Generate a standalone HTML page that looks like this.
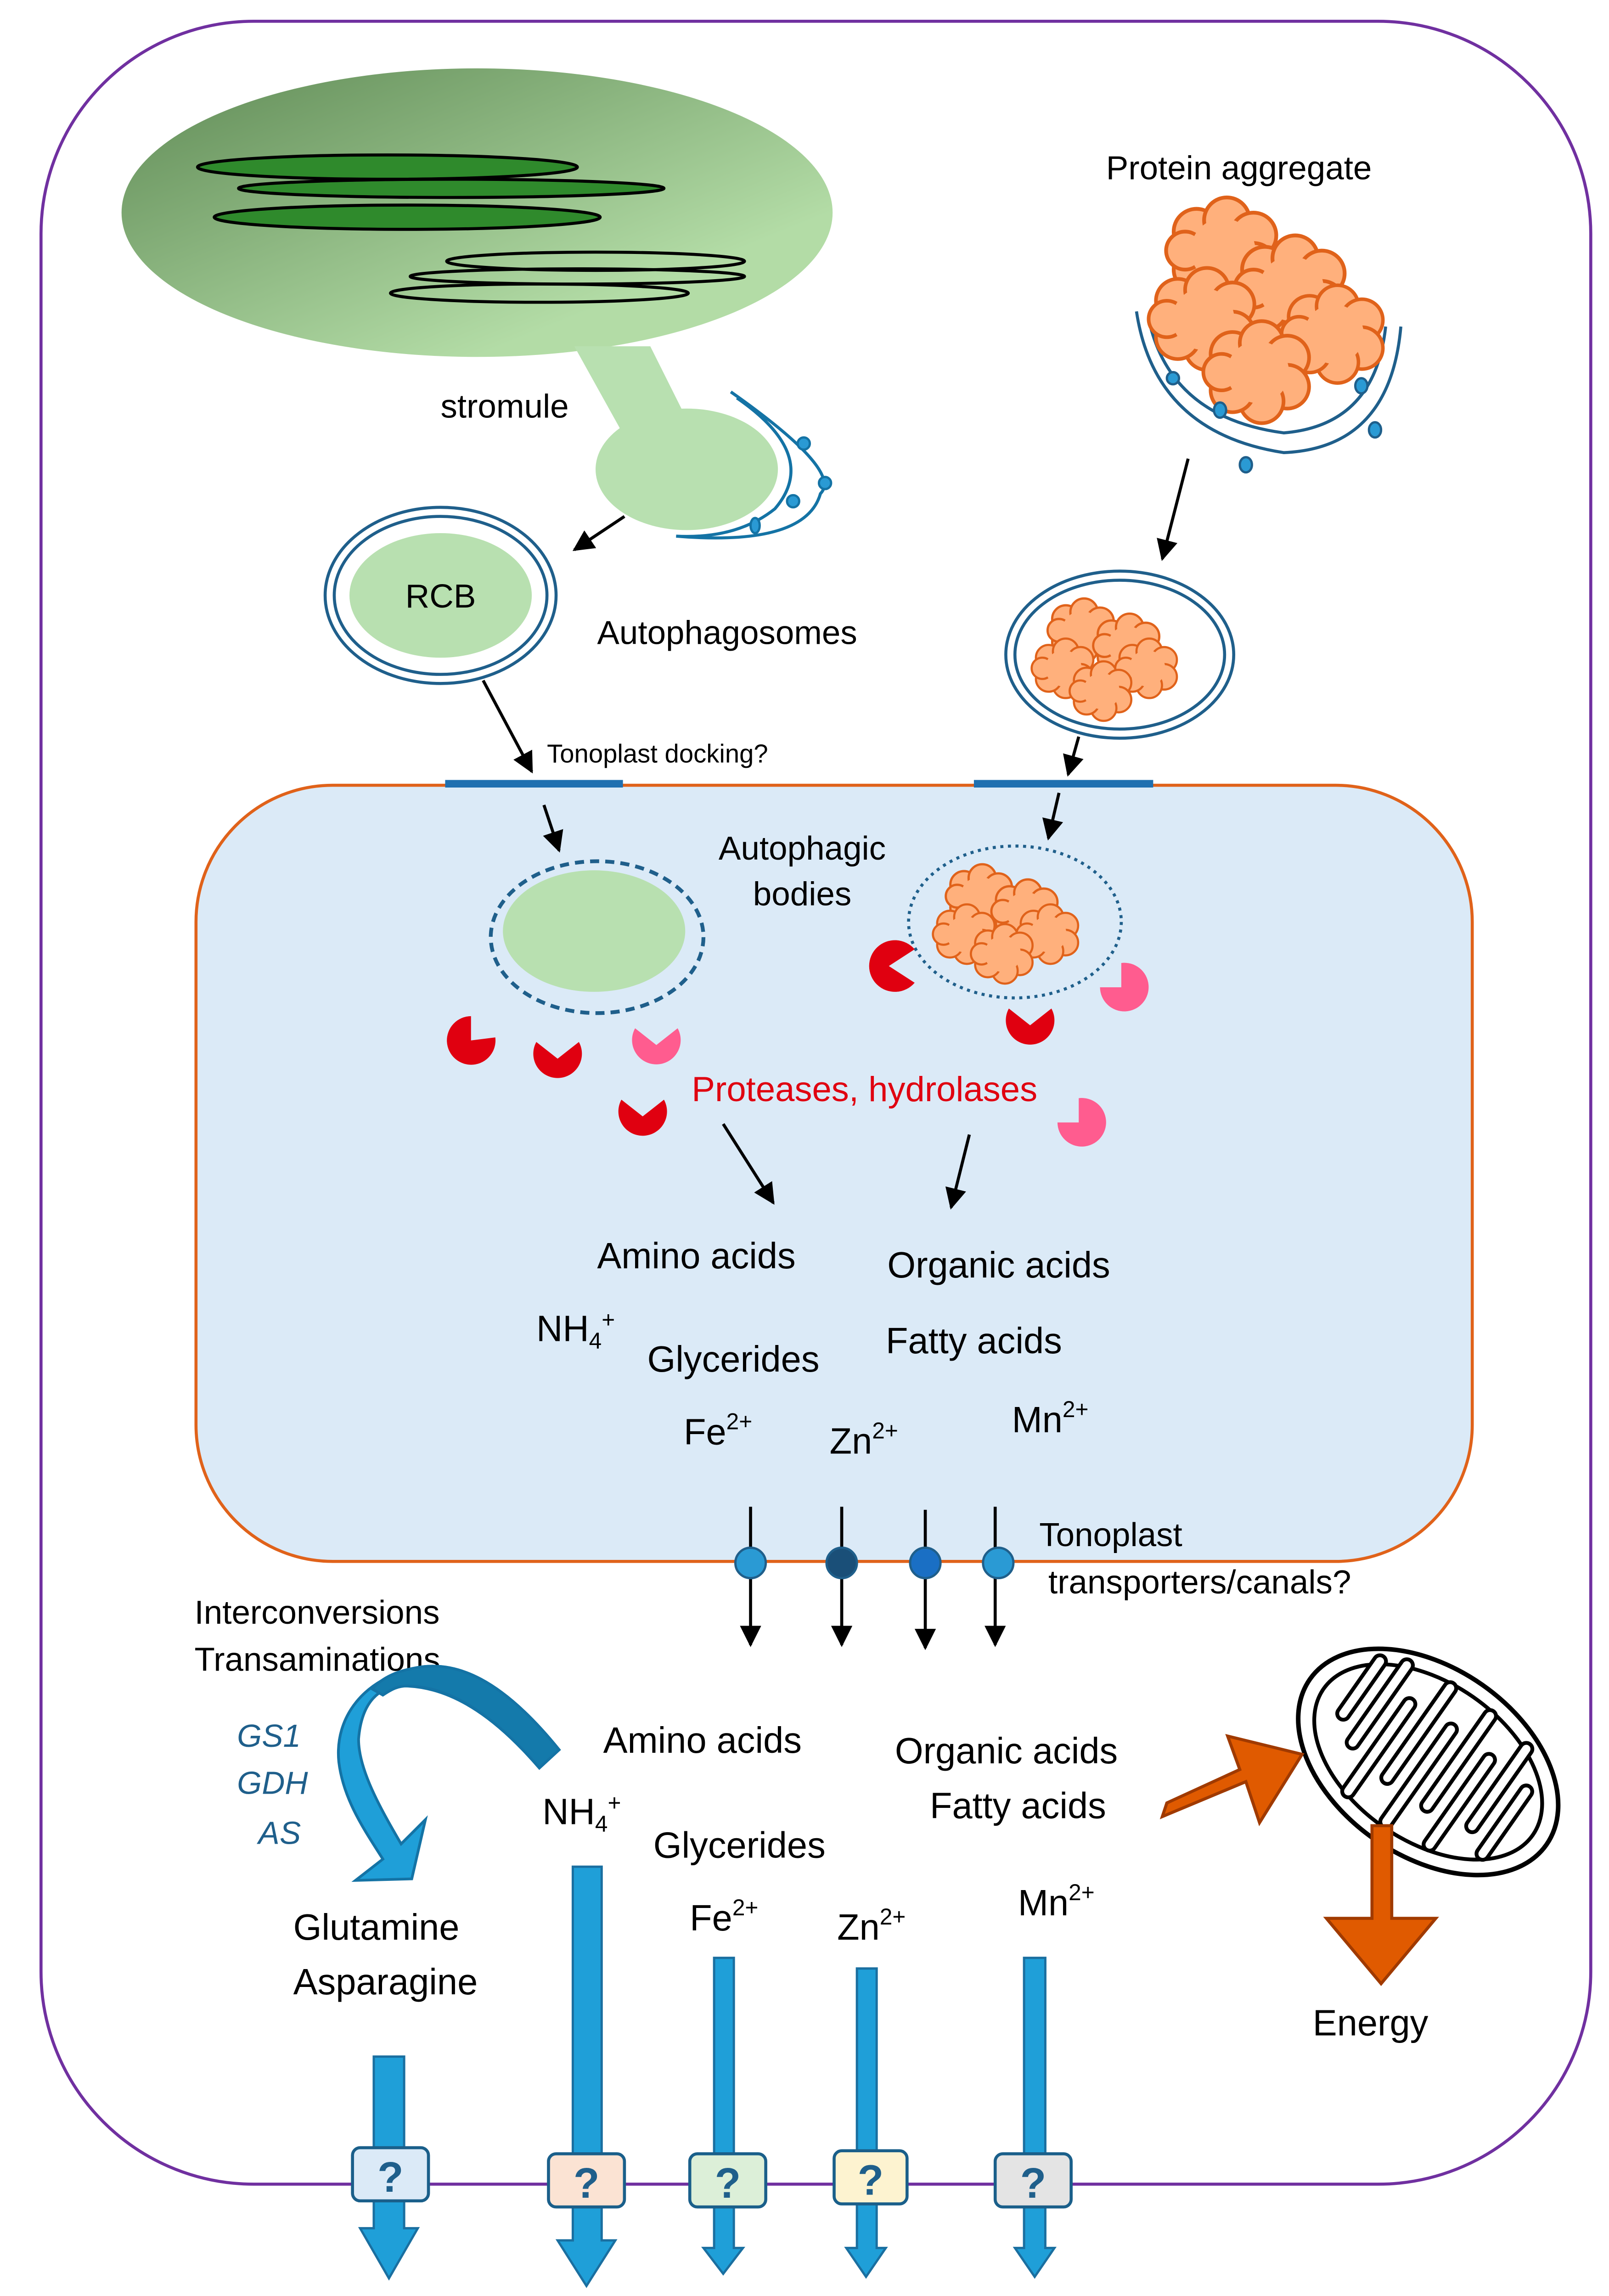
<!DOCTYPE html>
<html><head><meta charset="utf-8"><style>html,body{margin:0;padding:0;background:#fff;width:3504px;height:5160px;overflow:hidden}svg{display:block}text{font-family:"Liberation Sans","DejaVu Sans",sans-serif}</style></head>
<body>
<svg width="3504" height="5160" viewBox="0 0 1059 1560" preserveAspectRatio="none" xmlns="http://www.w3.org/2000/svg">
<defs>
<linearGradient id="chl" x1="0" y1="0" x2="1" y2="1">
<stop offset="0" stop-color="#5f8a55"/><stop offset="0.75" stop-color="#b3dca6"/></linearGradient>
<marker id="ah" viewBox="0 0 10 10" refX="9" refY="5" markerWidth="7" markerHeight="7" orient="auto"><path d="M0,0L10,5L0,10z" fill="#000"/></marker>
<g id="cloud"><g fill="#ffb07c" stroke="#e0621a" stroke-width="2">
<circle cx="-14" cy="-10" r="12"/><circle cx="2" cy="-16" r="12"/><circle cx="16" cy="-8" r="12"/><circle cx="16" cy="8" r="12"/><circle cx="2" cy="16" r="12"/><circle cx="-14" cy="10" r="12"/><circle cx="-20" cy="0" r="10"/></g>
<circle r="17" fill="#ffb07c"/></g>
</defs>
<!-- cell -->
<rect x="27" y="14" width="1020" height="1424" rx="140" fill="#fff" stroke="#7030a0" stroke-width="2"/>
<!-- chloroplast -->
<ellipse cx="314" cy="140" rx="234" ry="95" fill="url(#chl)"/>
<g stroke="#000" stroke-width="2">
<ellipse cx="255" cy="110" rx="125" ry="8" fill="#2f8a2c"/>
<ellipse cx="297" cy="124" rx="140" ry="6" fill="#2f8a2c"/>
<ellipse cx="268" cy="143" rx="127" ry="8" fill="#2f8a2c"/>
<ellipse cx="392" cy="172" rx="98" ry="6" fill="none"/>
<ellipse cx="380" cy="182" rx="110" ry="5" fill="none"/>
<ellipse cx="355" cy="193" rx="98" ry="6" fill="none"/>
</g>
<polygon points="378,228 428,228 460,292 418,300" fill="#b8e0b0"/>
<ellipse cx="452" cy="309" rx="60" ry="40" fill="#b8e0b0"/>
<path d="M481,258 Q555,310 540,325 Q530,360 445,353 Q485,355 510,335 Q540,300 485,262" fill="none" stroke="#1473a5" stroke-width="2"/>
<g fill="#2a9ad4" stroke="#1473a5" stroke-width="1.5">
<ellipse cx="529" cy="292" rx="4" ry="4"/><ellipse cx="543" cy="318" rx="4" ry="4"/><ellipse cx="522" cy="330" rx="4" ry="4"/><ellipse cx="497" cy="346" rx="3" ry="5"/></g>
<text x="290" y="275" font-size="22">stromule</text>
<line x1="411" y1="340" x2="378" y2="362" stroke="#000" stroke-width="2" marker-end="url(#ah)"/>
<!-- RCB -->
<ellipse cx="290" cy="392" rx="76" ry="58" fill="#fff" stroke="#1f5f8b" stroke-width="2"/>
<ellipse cx="290" cy="392" rx="70" ry="52" fill="#fff" stroke="#1f5f8b" stroke-width="2"/>
<ellipse cx="290" cy="392" rx="60" ry="41" fill="#b8e0b0"/>
<text x="290" y="400" font-size="22" text-anchor="middle">RCB</text>
<text x="393" y="424" font-size="22">Autophagosomes</text>
<line x1="318" y1="448" x2="350" y2="508" stroke="#000" stroke-width="2" marker-end="url(#ah)"/>
<text x="360" y="502" font-size="17">Tonoplast docking?</text>
<!-- protein aggregate -->
<text x="728" y="118" font-size="22">Protein aggregate</text>
<path d="M748,205 Q760,285 845,298 Q915,295 922,215" fill="none" stroke="#1f5f8b" stroke-width="2"/>
<path d="M756,210 Q770,275 845,285 Q905,280 912,215" fill="none" stroke="#1f5f8b" stroke-width="2"/>
<use href="#cloud" transform="translate(805,165) scale(1.25)"/>
<use href="#cloud" transform="translate(850,190) scale(1.25)"/>
<use href="#cloud" transform="translate(792,210) scale(1.2)"/>
<use href="#cloud" transform="translate(878,220) scale(1.15)"/>
<use href="#cloud" transform="translate(828,245) scale(1.2)"/>
<g fill="#2a9ad4" stroke="#1f5f8b" stroke-width="1.5">
<ellipse cx="772" cy="249" rx="4" ry="4"/><ellipse cx="803" cy="270" rx="4" ry="5"/><ellipse cx="896" cy="254" rx="4" ry="5"/><ellipse cx="905" cy="283" rx="4" ry="5"/><ellipse cx="820" cy="306" rx="4" ry="5"/></g>
<line x1="782" y1="302" x2="765" y2="368" stroke="#000" stroke-width="2" marker-end="url(#ah)"/>
<ellipse cx="737" cy="431" rx="75" ry="55" fill="#fff" stroke="#1f5f8b" stroke-width="2"/>
<ellipse cx="737" cy="431" rx="69" ry="49" fill="#fff" stroke="#1f5f8b" stroke-width="2"/>
<use href="#cloud" transform="translate(712,415) scale(0.75)"/>
<use href="#cloud" transform="translate(742,425) scale(0.75)"/>
<use href="#cloud" transform="translate(700,440) scale(0.7)"/>
<use href="#cloud" transform="translate(755,440) scale(0.7)"/>
<use href="#cloud" transform="translate(725,455) scale(0.7)"/>
<line x1="710" y1="485" x2="703" y2="510" stroke="#000" stroke-width="2" marker-end="url(#ah)"/>
<!-- vacuole -->
<rect x="129" y="517" width="840" height="511" rx="90" fill="#dbeaf7" stroke="#e0621a" stroke-width="2"/>
<line x1="293" y1="516" x2="410" y2="516" stroke="#1f70b0" stroke-width="5"/>
<line x1="641" y1="516" x2="759" y2="516" stroke="#1f70b0" stroke-width="5"/>
<line x1="358" y1="530" x2="368" y2="560" stroke="#000" stroke-width="2" marker-end="url(#ah)"/>
<line x1="697" y1="522" x2="690" y2="552" stroke="#000" stroke-width="2" marker-end="url(#ah)"/>
<ellipse cx="393" cy="617" rx="70" ry="50" fill="none" stroke="#1f5f8b" stroke-width="2.5" stroke-dasharray="6,4"/>
<ellipse cx="391" cy="613" rx="60" ry="40" fill="#b8e0b0"/>
<text x="528" y="566" font-size="22" text-anchor="middle">Autophagic</text>
<text x="528" y="596" font-size="22" text-anchor="middle">bodies</text>
<ellipse cx="668" cy="607" rx="70" ry="50" fill="none" stroke="#1f5f8b" stroke-width="2" stroke-dasharray="2,3"/>
<use href="#cloud" transform="translate(645,590) scale(0.75)"/>
<use href="#cloud" transform="translate(675,600) scale(0.75)"/>
<use href="#cloud" transform="translate(635,615) scale(0.7)"/>
<use href="#cloud" transform="translate(690,615) scale(0.7)"/>
<use href="#cloud" transform="translate(660,628) scale(0.7)"/>
<!-- pacmen -->
<g fill="#e00010">
<path d="M310,685 L326,683 A16,16 0 1 1 310,669 Z"/>
<path d="M367,697 L381,686 A16,16 0 1 1 353,686 Z"/>
<path d="M585,636 L602,625 A17,17 0 1 0 602,647 Z"/>
<path d="M678,675 L692,664 A16,16 0 1 1 664,664 Z"/>
<path d="M423,735 L437,724 A16,16 0 1 1 409,724 Z"/>
</g>
<g fill="#ff5c8f">
<path d="M432,688 L446,677 A16,16 0 1 1 418,677 Z"/>
<path d="M738,650 L738,634 A16,16 0 1 1 724,650 Z"/>
<path d="M710,739 L710,723 A16,16 0 1 1 696,739 Z"/>
</g>
<text x="569" y="725" font-size="23" fill="#e00010" text-anchor="middle">Proteases, hydrolases</text>
<line x1="476" y1="740" x2="509" y2="792" stroke="#000" stroke-width="2" marker-end="url(#ah)"/>
<line x1="638" y1="747" x2="626" y2="795" stroke="#000" stroke-width="2" marker-end="url(#ah)"/>
<g font-size="24">
<text x="393" y="835">Amino acids</text>
<text x="584" y="841">Organic acids</text>
<text x="353" y="883">NH<tspan font-size="15" dy="5">4</tspan><tspan font-size="15" dy="-14">+</tspan></text>
<text x="426" y="903">Glycerides</text>
<text x="583" y="891">Fatty acids</text>
<text x="450" y="951">Fe<tspan font-size="15" dy="-10">2+</tspan></text>
<text x="546" y="957">Zn<tspan font-size="15" dy="-10">2+</tspan></text>
<text x="666" y="943">Mn<tspan font-size="15" dy="-10">2+</tspan></text>
</g>
<!-- transporters -->
<g stroke="#000" stroke-width="2">
<line x1="494" y1="992" x2="494" y2="1083" marker-end="url(#ah)"/>
<line x1="554" y1="992" x2="554" y2="1083" marker-end="url(#ah)"/>
<line x1="609" y1="994" x2="609" y2="1085" marker-end="url(#ah)"/>
<line x1="655" y1="992" x2="655" y2="1083" marker-end="url(#ah)"/>
</g>
<g stroke="#1f5f8b" stroke-width="1.5">
<circle cx="494" cy="1029" r="10" fill="#2a9ad4"/>
<circle cx="554" cy="1029" r="10" fill="#1a4f78"/>
<circle cx="609" cy="1029" r="10" fill="#1a6fc4"/>
<circle cx="657" cy="1029" r="10" fill="#2a9ad4"/>
</g>
<text x="684" y="1018" font-size="22">Tonoplast</text>
<text x="690" y="1049" font-size="22">transporters/canals?</text>
<!-- lower left -->
<text x="128" y="1069" font-size="22">Interconversions</text>
<text x="128" y="1100" font-size="22">Transaminations</text>
<g font-size="21" font-style="italic" fill="#1f5f8b">
<text x="156" y="1150">GS1</text><text x="156" y="1181">GDH</text><text x="170" y="1214">AS</text></g>
<path d="M368,1152 C330,1105 300,1093 274,1098 C240,1105 220,1130 223,1160 C226,1185 240,1205 252,1224 L234,1238 L271,1237 L280,1198 L264,1214 C250,1190 236,1165 236,1145 C238,1120 250,1110 265,1110 C300,1110 330,1135 355,1164 Z" fill="#1f9fd8" stroke="#1473a5" stroke-width="1.8"/>
<path d="M368,1152 C330,1105 300,1093 274,1098 C262,1100 252,1104 245,1112 L252,1116 C258,1112 262,1110 268,1110 C300,1110 330,1135 355,1164 Z" fill="#147aab" stroke="#1473a5" stroke-width="1.8"/>
<text x="193" y="1277" font-size="24">Glutamine</text>
<text x="193" y="1313" font-size="24">Asparagine</text>
<g font-size="24">
<text x="397" y="1154">Amino acids</text>
<text x="357" y="1201">NH<tspan font-size="15" dy="5">4</tspan><tspan font-size="15" dy="-14">+</tspan></text>
<text x="430" y="1223">Glycerides</text>
<text x="589" y="1161">Organic acids</text>
<text x="612" y="1197">Fatty acids</text>
<text x="454" y="1271">Fe<tspan font-size="15" dy="-10">2+</tspan></text>
<text x="551" y="1277">Zn<tspan font-size="15" dy="-10">2+</tspan></text>
<text x="670" y="1261">Mn<tspan font-size="15" dy="-10">2+</tspan></text>
<text x="864" y="1340">Energy</text>
<text x="336" y="1540">Source to sink remobilization</text>
</g>
<!-- mitochondrion -->
<g transform="translate(940,1160) rotate(35)">
<ellipse rx="95" ry="62" fill="#fff" stroke="#000" stroke-width="3"/>
<ellipse rx="84" ry="52" fill="none" stroke="#000" stroke-width="2.5"/>
<g stroke="#000" stroke-width="2.5" fill="#fff">
<rect x="-68" y="-40" width="8" height="50" rx="4"/>
<rect x="-52" y="-48" width="8" height="70" rx="4"/>
<rect x="-36" y="-28" width="8" height="78" rx="4"/>
<rect x="-20" y="-52" width="8" height="80" rx="4"/>
<rect x="-4" y="-30" width="8" height="82" rx="4"/>
<rect x="12" y="-52" width="8" height="80" rx="4"/>
<rect x="28" y="-28" width="8" height="76" rx="4"/>
<rect x="44" y="-48" width="8" height="70" rx="4"/>
<rect x="60" y="-25" width="8" height="58" rx="4"/>
</g></g>
<!-- orange arrows -->
<polygon points="768,1187 765,1196 820,1173 829,1200 857,1155 808,1143 816,1165" fill="#e05a00" stroke="#a03a00" stroke-width="2"/>
<polygon points="903,1202 916,1202 916,1263 945,1263 909,1306 873,1263 903,1263" fill="#e05a00" stroke="#a03a00" stroke-width="2"/>
<!-- blue arrows -->
<g fill="#1f9fd8" stroke="#1a6fa0" stroke-width="1.5">
<polygon points="246,1354 266,1354 266,1467 275,1467 256,1500 237,1467 246,1467"/>
<polygon points="377,1229 396,1229 396,1475 405,1475 386,1505 367,1475 377,1475"/>
<polygon points="470,1289 483,1289 483,1480 489,1480 476,1497 463,1480 470,1480"/>
<polygon points="564,1296 577,1296 577,1480 583,1480 570,1499 557,1480 564,1480"/>
<polygon points="674,1289 688,1289 688,1480 694,1480 681,1499 668,1480 674,1480"/>
</g>
<g stroke="#1a5f8a" stroke-width="2" font-size="26" text-anchor="middle">
<rect x="232" y="1414" width="50" height="35" rx="5" fill="#dbeaf7"/>
<rect x="361" y="1418" width="50" height="35" rx="5" fill="#fbe3d3"/>
<rect x="454" y="1418" width="50" height="35" rx="5" fill="#dcefd8"/>
<rect x="549" y="1416" width="48" height="35" rx="5" fill="#fdf3d0"/>
<rect x="655" y="1418" width="50" height="35" rx="5" fill="#e4e4e4"/>
</g>
<g font-size="28" fill="#1f5f8b" text-anchor="middle" font-weight="bold">
<text x="257" y="1443">?</text><text x="386" y="1447">?</text><text x="479" y="1447">?</text><text x="573" y="1445">?</text><text x="680" y="1447">?</text>
</g>
</svg>
</body></html>
